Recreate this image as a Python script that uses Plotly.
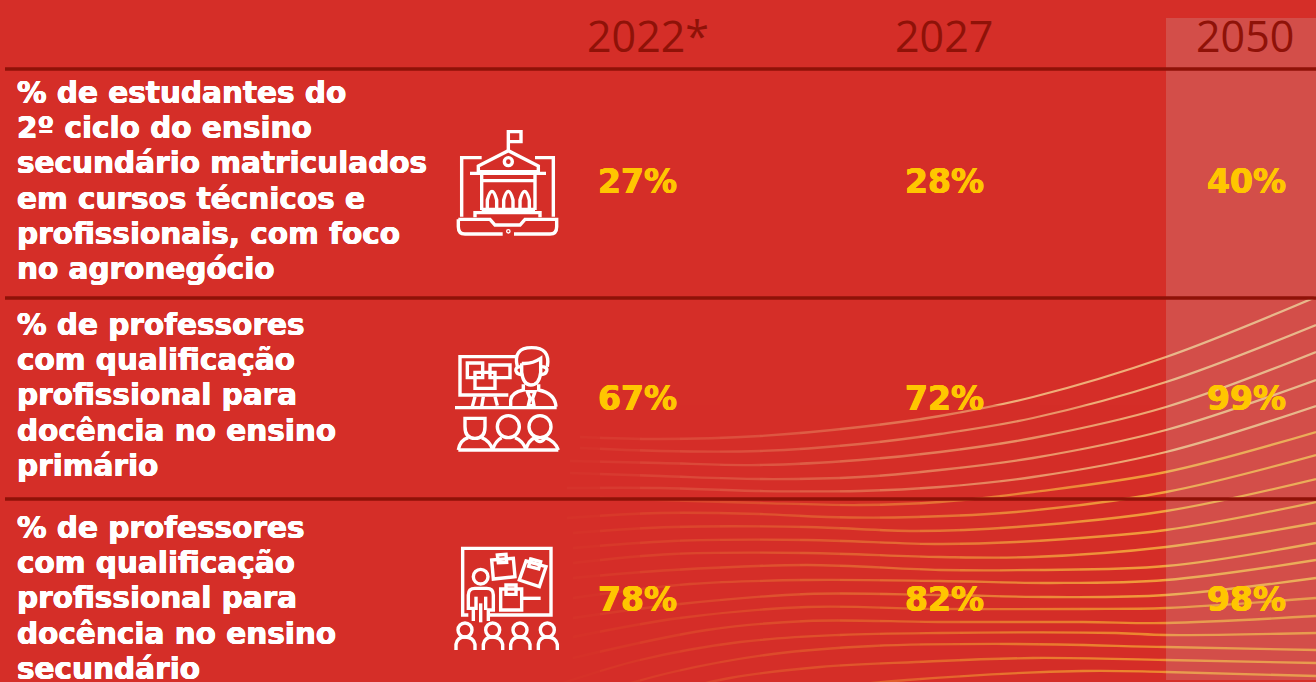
import re
import plotly.graph_objects as go

# ---------- data ----------
years = ["2022*", "2027", "2050"]
row_labels = [
    ["% de estudantes do", "2º ciclo do ensino", "secundário matriculados",
     "em cursos técnicos e", "profissionais, com foco", "no agronegócio"],
    ["% de professores", "com qualificação", "profissional para",
     "docência no ensino", "primário"],
    ["% de professores", "com qualificação", "profissional para",
     "docência no ensino", "secundário"],
]
values_2022 = ["27%", "67%", "78%"]
values_2027 = ["28%", "72%", "82%"]
values_2050 = ["40%", "99%", "98%"]

# decorative wave lines
waves = [
    [(580,437),(660,439),(760,436),(860,427),(940,416),(1033,397),(1166,357),(1316,297)],
    [(580,448),(660,451),(760,451),(860,444),(940,434),(1033,418),(1166,382),(1316,325)],
    [(570,461),(660,463),(760,465),(860,460),(940,452),(1033,438),(1166,407),(1316,352)],
    [(570,473),(660,476),(760,479),(860,477),(940,470),(1033,458),(1166,430),(1316,380)],
    [(567,488),(660,488),(760,491),(860,491),(940,487),(1033,477),(1166,452),(1316,406)],
    [(600,498),(693,501),(760,503),(860,505),(940,502),(1033,492),(1166,472),(1316,432)],
    [(567,518),(660,513),(760,514),(827,517),(916,517),(1016,512),(1166,492),(1316,455)],
    [(573,533),(673,527),(807,527),(916,531),(1016,527),(1166,511),(1316,479)],
    [(573,548),(673,541),(807,540),(940,544),(1016,542),(1166,530),(1316,502)],
    [(573,563),(673,554),(807,553),(940,557),(1033,557),(1166,547),(1316,523)],
    [(573,578),(673,570),(807,565),(940,570),(1033,570),(1166,566),(1316,543)],
    [(573,598),(690,584),(807,580),(940,581),(1050,583),(1166,580),(1316,560)],
    [(573,618),(680,604),(807,594),(940,595),(1050,597),(1166,595),(1316,578)],
    [(573,637),(680,618),(807,607),(940,609),(1083,609),(1166,608),(1316,598)],
    [(573,658),(707,630),(807,621),(940,622),(1083,622),(1166,623),(1316,616)],
    [(560,684),(640,660),(740,642),(840,635),(940,633),(1116,633),(1166,635),(1316,633)],
    [(590,695),(673,672),(773,654),(873,646),(1016,644),(1166,647),(1316,650)],
    [(640,700),(730,678),(820,667),(916,662),(1033,658),(1166,660),(1316,663)],
    [(720,705),(810,690),(907,680),(1083,671),(1166,672),(1316,676)],
]

# ---------- layout / style ----------
W, H = 1316, 682
BG = "#d52e28"
RULE = "#8f1208"
YEL = "#ffc600"
col_x = [637.5, 944, 1246]
head_x = [585, 944, 1245]
head_anchor = ["left", "center", "center"]
row_y = [181, 398, 599]
label_y0 = [93, 325, 528]
label_step = 35.2
rules_y = [69, 298, 499]
fade = [(540,1),(560,.97),(600,.9),(640,.84),(680,.79),(720,.74),(760,.69),(800,.63),(840,.56),
        (880,.48),(920,.4),(960,.32),(1000,.25),(1040,.18),(1080,.11),(1120,.05)]
thick_white = "0.45px 0 0 #ffffff,-0.45px 0 0 #ffffff,0 0.3px 0 #ffffff"
thick_yel = "0.5px 0 0 #ffc600,-0.5px 0 0 #ffc600,0 0.3px 0 #ffc600"

def circ(cx, cy, r):
    k = r * 0.5523
    return (f"M{cx-r} {cy} C{cx-r} {cy-k} {cx-k} {cy-r} {cx} {cy-r} "
            f"C{cx+k} {cy-r} {cx+r} {cy-k} {cx+r} {cy} "
            f"C{cx+r} {cy+k} {cx+k} {cy+r} {cx} {cy+r} "
            f"C{cx-k} {cy+r} {cx-r} {cy+k} {cx-r} {cy} Z")

def arch(x0, x1, top, bot):
    return f"M{x0} {bot} L{x0} {top+22} Q{(x0+x1)/2} {top-30} {x1} {top+22} L{x1} {bot}"

def box(x0, y0, x1, y1):
    return f"M{x0} {y0} L{x1} {y0} L{x1} {y1} L{x0} {y1} Z"

icon1 = [
    "M205 95 L205 35 L243 35 L243 65 L205 65",
    "M115 155 L115 138 L205 92 L295 138 L295 155 Z",
    circ(205, 125, 12),
    "M90 160 L318 160",
    "M125 113 L65 113 L65 290", "M285 113 L340 113 L340 290",
    "M125 165 L125 270", "M285 165 L285 270", "M125 182 L285 182",
    arch(142, 170, 218, 265), arch(191, 219, 218, 265), arch(240, 268, 218, 265),
    "M125 268 L285 268", "M105 292 L105 278 L300 278 L300 292",
    "M55 298 L150 298 L165 315 L240 315 L255 298 L350 298 L350 320 Q350 342 330 342 L222 342",
    "M188 342 L75 342 Q55 342 55 320 L55 298",
    circ(205, 334, 2),
]
icon2 = [
    "M228 65 L60 65 L60 180 L205 180",
    box(82, 84, 128, 128), box(105, 112, 165, 160), box(150, 90, 210, 128),
    "M105 185 L97 215", "M130 185 L125 215", "M165 185 L172 212",
    "M45 218 L350 218",
    "M232 95 Q218 38 275 38 Q332 38 322 95",
    "M245 85 L245 112 Q250 150 272 150 Q298 150 302 112 L302 70 Q275 88 245 85",
    "M245 95 Q225 95 228 108 Q232 120 247 118", "M302 95 Q324 95 320 108 Q316 120 300 118",
    "M212 215 L212 195 Q215 172 250 165 L250 148", "M296 148 L296 165 Q345 175 348 215",
    "M262 170 L285 170 L278 190 L282 212 L265 212 L270 190 Z",
    "M75 250 L135 250 L135 275 Q135 310 105 310 Q75 310 75 275 Z",
    circ(205, 275, 33), circ(300, 275, 33),
    "M285 310 Q300 330 315 310",
    "M55 345 Q60 315 85 308", "M125 308 Q150 318 158 345",
    "M158 345 Q165 318 185 308", "M225 308 Q250 318 258 345",
    "M258 345 Q263 318 285 308", "M315 308 Q345 318 355 345",
    "M55 345 L355 345",
]
icon3 = [
    "M85 240 L68 240 L68 40 L333 40 L333 240 L150 240",
    "M155 75 L220 70 L225 125 L160 132 Z", "M172 60 L198 58 L200 82 L175 83 Z",
    "M258 78 L318 95 L298 155 L238 135 Z", "M272 72 L302 80 L296 102 L266 94 Z",
    box(182, 162, 245, 225), box(198, 150, 228, 178), "M245 190 L302 190",
    circ(122, 125, 22),
    "M100 258 L100 220 L85 220 L85 180 Q85 160 105 160 L140 160 Q160 160 160 180 L160 225 L145 225 L145 258",
    "M108 185 L108 225", "M137 185 L137 225", "M122 205 L122 262",
    circ(75, 285, 21), circ(158, 285, 21), circ(240, 285, 21), circ(322, 285, 21),
    "M48 345 L48 328 Q52 306 75 306 Q100 306 105 328 L105 345",
    "M130 345 L130 328 Q134 306 158 306 Q183 306 188 328 L188 345",
    "M212 345 L212 328 Q216 306 240 306 Q265 306 270 328 L270 345",
    "M295 345 L295 328 Q298 306 322 306 Q347 306 352 328 L352 345",
]

def place(d, ox, oy, s=1/3):
    idx = [0]
    def rep(m):
        v = float(m.group(0))
        i = idx[0]; idx[0] += 1
        return f"{(ox if i % 2 == 0 else oy) + v * s:.2f}"
    return re.sub(r"-?\d+(?:\.\d+)?", rep, d)

# ---------- figure ----------
fig = go.Figure()
for i, w in enumerate(waves):
    color = "#efae78" if i < 5 else ("#f2a03c" if i < 13 else "#ee8c30")
    fig.add_trace(go.Scatter(
        x=[p[0] for p in w], y=[p[1] for p in w], mode="lines",
        line=dict(color=color, width=2.3, shape="spline", smoothing=1),
        hoverinfo="skip", showlegend=False))

shapes = []
for (x0, a), (x1, _) in zip(fade, fade[1:] + [(1160, 0)]):
    shapes.append(dict(type="rect", layer="above", x0=x0, x1=x1, y0=405, y1=H,
                       fillcolor=BG, opacity=a, line_width=0))
shapes.append(dict(type="rect", layer="above", x0=1166, x1=W, y0=18, y1=680,
                   fillcolor="rgb(200,235,235)", opacity=0.17, line_width=0))
for y in rules_y:
    shapes.append(dict(type="line", layer="above", x0=5, x1=W, y0=y, y1=y,
                       line=dict(color=RULE, width=3.4)))
for icon, ox, oy in [(icon1, 440, 120), (icon2, 440, 335), (icon3, 440, 535)]:
    for d in icon:
        shapes.append(dict(type="path", layer="above", path=place(d, ox, oy),
                           line=dict(color="white", width=3.4), fillcolor="rgba(0,0,0,0)"))

ann = []
def text(x, y, s, size, color, family, anchor="left", weight="normal", shadow="none"):
    ann.append(dict(x=x, y=y, xref="x", yref="y", text=s, showarrow=False, xanchor=anchor,
                    yanchor="middle",
                    font=dict(size=size, color=color, family=family, weight=weight, shadow=shadow)))

for x, a, yr in zip(head_x, head_anchor, years):
    text(x, 35, yr, 43, RULE, "Open Sans", a, 400)
for y0, lines in zip(label_y0, row_labels):
    for j, line in enumerate(lines):
        text(14.5, y0 + j * label_step, line, 29.5, "white", "DejaVu Sans", "left", "bold", thick_white)
for x, vals in zip(col_x, [values_2022, values_2027, values_2050]):
    for y, v in zip(row_y, vals):
        text(x, y, v, 33, YEL, "DejaVu Sans", "center", "bold", thick_yel)

fig.update_layout(
    width=W, height=H, margin=dict(l=0, r=0, t=0, b=0, pad=0),
    paper_bgcolor=BG, plot_bgcolor=BG, showlegend=False,
    xaxis=dict(range=[0, W], visible=False, fixedrange=True),
    yaxis=dict(range=[H, 0], visible=False, fixedrange=True),
    shapes=shapes, annotations=ann,
)
fig.write_html("out.html", config={"displayModeBar": False},
               post_script="document.body.style.margin='0';")
